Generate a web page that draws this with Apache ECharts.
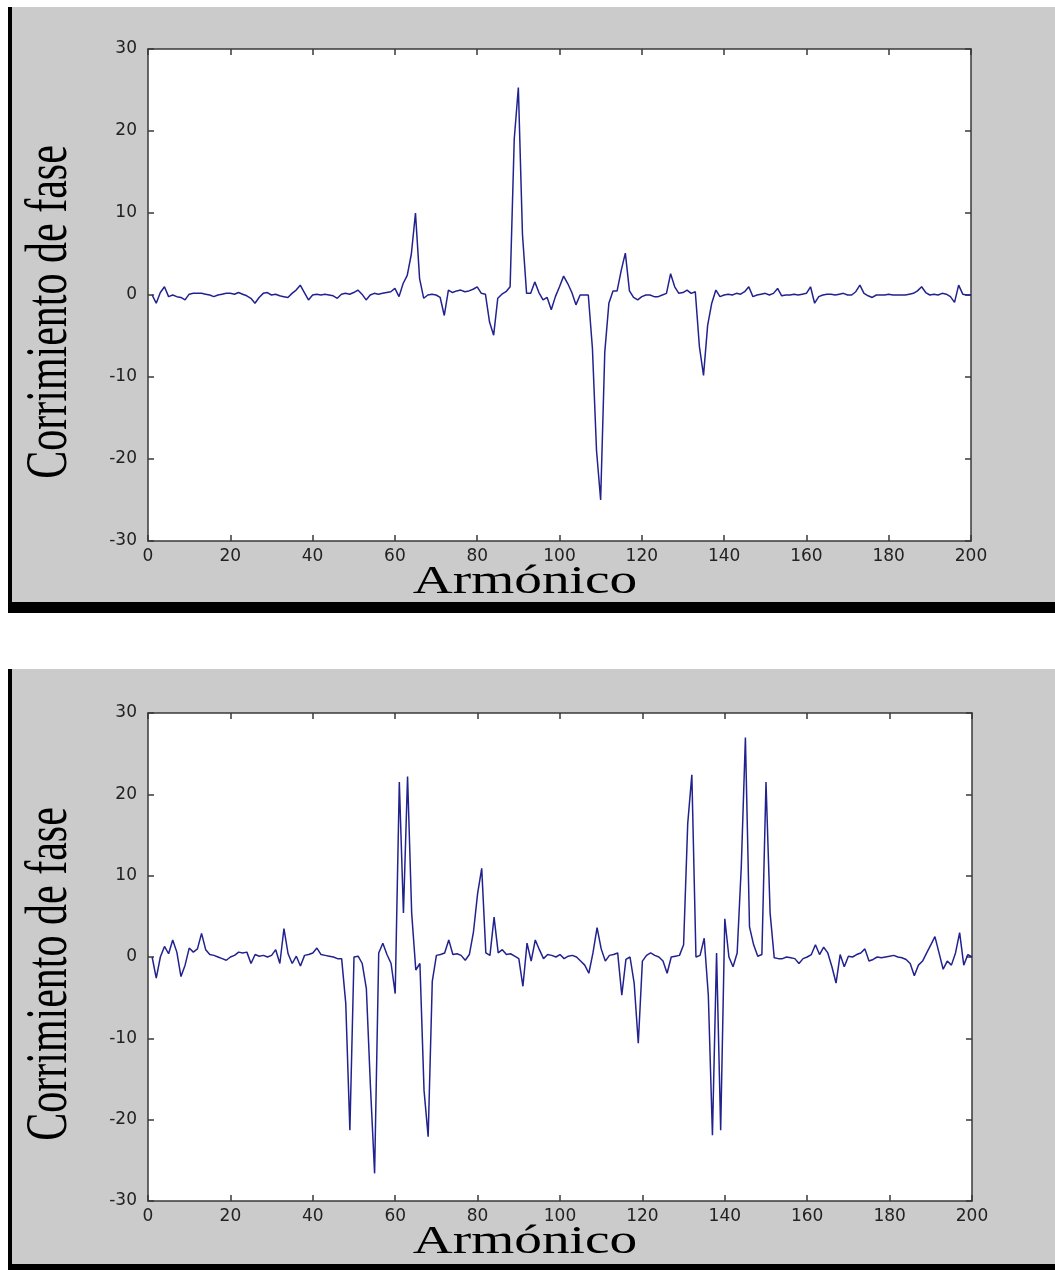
<!DOCTYPE html>
<html>
	<head>
		<meta charset="utf-8" />
		<script type="text/javascript" src="https://cdn.jsdelivr.net/npm/echarts@6/dist/echarts.min.js"></script>
		<title></title>
		<style>
			html, body { margin: 0; padding: 0; background: #fff; }
		</style>
	</head>
	<body>
		<div id="chartmain" style="width:1055px; height: 1270px;"></div>
		<script type="text/javascript">
// harmonic number 1..200
var harmonics = [];
for (var h = 1; h <= 200; h++) harmonics.push(h);

var xTicks = [0, 20, 40, 60, 80, 100, 120, 140, 160, 180, 200];
var yTicks = [-30, -20, -10, 0, 10, 20, 30];

// phase shift, upper panel
var phaseTop = [
  0, -1.0, 0.3, 1.0, -0.2, 0, -0.2, -0.3, -0.6, 0.1,
  0.2, 0.2, 0.2, 0.1, 0, -0.2, 0, 0.1, 0.2, 0.2,
  0.1, 0.3, 0.1, -0.1, -0.4, -1.0, -0.3, 0.2, 0.3, 0,
  0.1, -0.1, -0.2, -0.3, 0.2, 0.6, 1.2, 0.3, -0.6, 0,
  0.1, 0, 0.1, 0, -0.1, -0.4, 0.1, 0.2, 0.1, 0.3,
  0.6, 0.1, -0.6, 0, 0.2, 0.1, 0.2, 0.3, 0.4, 0.8,
  -0.2, 1.4, 2.4, 5.0, 10.0, 2.0, -0.4, 0, 0.1, 0,
  -0.3, -2.5, 0.6, 0.3, 0.5, 0.6, 0.4, 0.5, 0.7, 1.0,
  0.2, 0.1, -3.3, -4.9, -0.4, 0.1, 0.4, 1.0, 19.0, 25.3,
  7.4, 0.2, 0.2, 1.6, 0.3, -0.6, -0.3, -1.8, -0.2, 1.0,
  2.3, 1.4, 0.3, -1.2, 0, 0, 0, -6.5, -19.0, -25.0,
  -7.0, -1.0, 0.5, 0.5, 3.0, 5.1, 0.5, -0.3, -0.6, -0.2,
  0, 0, -0.2, -0.2, 0, 0.2, 2.6, 1.0, 0.2, 0.3,
  0.6, 0.2, 0.4, -6.3, -9.8, -3.7, -1.0, 0.6, -0.2, 0,
  0.1, 0, 0.2, 0.1, 0.4, 1.0, -0.2, 0, 0.1, 0.2,
  0, 0.2, 0.8, -0.1, 0, 0, 0.1, 0, 0.1, 0.2,
  1.0, -1.0, -0.2, 0, 0.1, 0.1, 0, 0.1, 0.2, 0,
  0, 0.4, 1.2, 0.2, -0.1, -0.3, 0, 0, 0, 0.1,
  0, 0, 0, 0, 0.1, 0.2, 0.5, 1.0, 0.3, 0,
  0.1, 0, 0.2, 0.1, -0.2, -0.9, 1.2, 0.1, 0, 0
];

// phase shift, lower panel
var phaseBottom = [
  0, -2.6, 0, 1.3, 0.4, 2.1, 0.6, -2.4, -1.0, 1.1,
  0.6, 1.0, 2.9, 0.9, 0.3, 0.2, 0, -0.2, -0.4, 0,
  0.2, 0.6, 0.5, 0.6, -0.8, 0.3, 0.1, 0.2, 0, 0.2,
  0.9, -0.8, 3.5, 0.4, -0.8, 0.1, -1.1, 0.2, 0.3, 0.5,
  1.1, 0.3, 0.2, 0.1, 0, -0.2, -0.2, -5.7, -21.3, 0,
  0.1, -0.8, -3.9, -16.0, -26.6, 0.5, 1.7, 0.3, -0.8, -4.5,
  21.5, 5.4, 22.2, 5.4, -1.6, -0.8, -16.4, -22.1, -3.0, 0.2,
  0.3, 0.5, 2.1, 0.3, 0.4, 0.2, -0.4, 0.3, 3.1, 7.8,
  10.9, 0.5, 0.2, 4.9, 0.5, 0.9, 0.3, 0.4, 0.1, -0.2,
  -3.6, 1.7, -0.5, 2.1, 0.9, -0.2, 0.3, 0.2, 0, 0.3,
  -0.2, 0.1, 0.2, 0, -0.5, -1.0, -2.0, 0.5, 3.6, 1.0,
  -0.5, 0.2, 0.3, 0.5, -4.7, -0.3, 0, -3.2, -10.6, -0.5,
  0.2, 0.5, 0.2, 0, -0.5, -2.0, 0, 0.1, 0.2, 1.5,
  16.4, 22.4, 0, 0.2, 2.3, -4.7, -21.9, 0.5, -21.3, 4.7,
  0, -1.2, 0.5, 11.1, 27.0, 3.7, 1.5, 0.1, 0.3, 21.5,
  5.4, -0.1, -0.2, -0.2, 0, -0.1, -0.2, -0.8, -0.2, 0,
  0.3, 1.5, 0.3, 1.2, 0.5, -1.2, -3.2, 0.3, -1.2, 0.1,
  0, 0.3, 0.5, 1.0, -0.5, -0.3, 0, -0.1, 0, 0.1,
  0.2, 0, -0.1, -0.3, -0.8, -2.3, -1.0, -0.5, 0.5, 1.5,
  2.5, 0.5, -1.5, -0.5, -1.0, 0.5, 3.0, -1.0, 0.3, 0
];

var grids = [
  { left: 148, top: 49, width: 823, height: 492 },
  { left: 148, top: 713, width: 824, height: 488 }
];

var axisColor = '#3a3a3a';
var tickFont = { color: '#222', fontSize: 17, fontFamily: 'DejaVu Sans' };

function makeX(gi, pos) {
  return {
    gridIndex: gi, type: 'value', position: pos,
    min: xTicks[0], max: xTicks[xTicks.length - 1], interval: 20,
    axisLine: { show: true, onZero: false, lineStyle: { color: axisColor, width: 1.5 } },
    axisTick: { show: true, inside: true, length: 6, lineStyle: { color: axisColor, width: 1.5 } },
    axisLabel: pos === 'bottom' ? Object.assign({ margin: 7 }, tickFont) : { show: false },
    splitLine: { show: false }
  };
}
function makeY(gi, pos) {
  return {
    gridIndex: gi, type: 'value', position: pos,
    min: yTicks[0], max: yTicks[yTicks.length - 1], interval: 10,
    axisLine: { show: true, onZero: false, lineStyle: { color: axisColor, width: 1.5 } },
    axisTick: { show: true, inside: true, length: 6, lineStyle: { color: axisColor, width: 1.5 } },
    axisLabel: pos === 'left' ? Object.assign({ margin: 11 }, tickFont) : { show: false },
    splitLine: { show: false }
  };
}

function pairs(values) {
  return harmonics.map(function (h, i) { return [h, values[i]]; });
}

var lineColor = '#22228f';

function panelGraphics(top, bottom) {
  return [
    { type: 'rect', z: -10, shape: { x: 8, y: top, width: 1047, height: bottom - top }, style: { fill: '#000' } },
    { type: 'rect', z: -9, shape: { x: 12, y: top, width: 1043, height: bottom - top - 11 }, style: { fill: '#cbcbcb' } }
  ];
}

function titles(gTop, gBottom) {
  var cy = (gTop + gBottom) / 2;
  return [
    {
      type: 'text', z: 50, x: 525, y: gBottom + 62, scaleX: 1.35,
      style: { text: 'Armónico', font: '41px "Liberation Serif"', fill: '#000', textAlign: 'center', textVerticalAlign: 'bottom' }
    },
    {
      type: 'text', z: 50, x: 80, y: cy + 17, rotation: Math.PI / 2, scaleY: 1.4,
      style: { text: 'Corrimiento de fase', font: '42px "Liberation Serif"', fill: '#000', textAlign: 'center', textVerticalAlign: 'bottom' }
    }
  ];
}

option = {
  backgroundColor: '#fff',
  animation: false,
  graphic: {
    elements: []
      .concat(panelGraphics(7, 613))
      .concat(panelGraphics(669, 1275))
      .concat(titles(49, 541))
      .concat(titles(713, 1201))
  },
  grid: grids.map(function (g) {
    return Object.assign({ show: true, backgroundColor: '#fff', borderWidth: 0 }, g);
  }),
  xAxis: [makeX(0, 'bottom'), makeX(0, 'top'), makeX(1, 'bottom'), makeX(1, 'top')],
  yAxis: [makeY(0, 'left'), makeY(0, 'right'), makeY(1, 'left'), makeY(1, 'right')],
  series: [
    {
      type: 'line', xAxisIndex: 0, yAxisIndex: 0,
      data: pairs(phaseTop), symbol: 'none',
      lineStyle: { color: lineColor, width: 1.5 }
    },
    {
      type: 'line', xAxisIndex: 2, yAxisIndex: 2,
      data: pairs(phaseBottom), symbol: 'none',
      lineStyle: { color: lineColor, width: 1.5 }
    }
  ]
};

			var myChart = echarts.init(document.getElementById('chartmain'));
			myChart.setOption(option);

			window.addEventListener('resize', function () {
				myChart.resize()
			})
		</script>
	</body>
</html>
